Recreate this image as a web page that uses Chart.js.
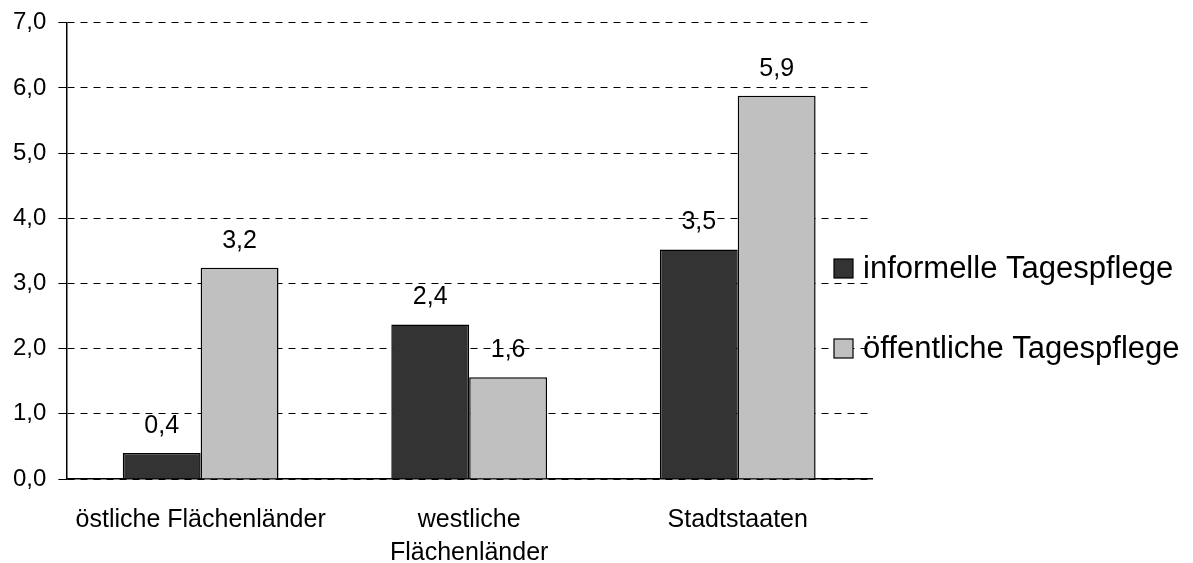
<!DOCTYPE html>
<html>
<head>
<meta charset="utf-8">
<script src="https://cdn.jsdelivr.net/npm/chart.js@4"></script>
<style>
  html, body { margin: 0; padding: 0; background: #fff; }
  #wrap { width: 1193px; height: 563px; }
</style>
</head>
<body>
<div id="wrap"><canvas id="tagespflegeChart" width="1193" height="563"></canvas></div>
<script>
// data
const categories = [
  "östliche Flächenländer",
  ["westliche", "Flächenländer"],
  "Stadtstaaten",
];
const seriesNames = ["informelle Tagespflege", "öffentliche Tagespflege"];
const informell = [0.4, 2.37, 3.52];
const oeffentlich = [3.24, 1.56, 5.88];
const yTicks = [0, 1, 2, 3, 4, 5, 6, 7];

const FONT = "'Liberation Sans', Arial, sans-serif";
const fmt = (v) => v.toFixed(1).replace(".", ",");

// value labels above the bars
const valueLabels = {
  id: "valueLabels",
  afterDatasetsDraw(chart) {
    const ctx = chart.ctx;
    ctx.save();
    ctx.font = "25px " + FONT;
    ctx.fillStyle = "#000";
    ctx.textAlign = "center";
    ctx.textBaseline = "middle";
    chart.data.datasets.forEach((ds, i) => {
      chart.getDatasetMeta(i).data.forEach((bar, j) => {
        ctx.fillText(fmt(ds.data[j]), bar.x, bar.y - 27);
      });
    });
    ctx.restore();
  },
};

// legend on the right, drawn from the datasets
const sideLegend = {
  id: "sideLegend",
  afterDraw(chart) {
    const ctx = chart.ctx;
    const x = 834;
    const ys = [268.5, 348.5];
    ctx.save();
    ctx.font = "31px " + FONT;
    ctx.textBaseline = "middle";
    chart.data.datasets.forEach((ds, i) => {
      ctx.fillStyle = ds.backgroundColor;
      ctx.fillRect(x, ys[i] - 9.5, 19, 19);
      ctx.strokeStyle = "#000";
      ctx.lineWidth = 1.2;
      ctx.strokeRect(x, ys[i] - 9.5, 19, 19);
      ctx.fillStyle = "#000";
      ctx.fillText(ds.label, x + 29, ys[i] + 1);
    });
    ctx.restore();
  },
};

const ctx = document.getElementById("tagespflegeChart").getContext("2d");
new Chart(ctx, {
  type: "bar",
  data: {
    labels: categories,
    datasets: [
      {
        label: seriesNames[0],
        data: informell,
        backgroundColor: "#333333",
        borderColor: "#000000",
        borderWidth: 1.5,
      },
      {
        label: seriesNames[1],
        data: oeffentlich,
        backgroundColor: "#c0c0c0",
        borderColor: "#000000",
        borderWidth: 1.5,
      },
    ],
  },
  options: {
    responsive: false,
    animation: false,
    layout: {
      padding: { top: 0, right: 321, bottom: 0, left: 1 },
    },
    datasets: {
      bar: { barPercentage: 1, categoryPercentage: 0.58 },
    },
    scales: {
      x: {
        grid: { display: false },
        border: { display: true, color: "#000", width: 1.5 },
        ticks: {
          color: "#000",
          font: { family: FONT, size: 25, lineHeight: 1.3 },
          padding: 17,
          maxRotation: 0,
        },
        afterFit(scale) {
          scale.height = 84;
        },
      },
      y: {
        min: 0,
        max: 7,
        afterBuildTicks(scale) {
          scale.ticks = yTicks.map((v) => ({ value: v }));
        },
        grid: {
          color: "#000",
          lineWidth: 1,
          tickLength: 8,
          tickBorderDash: [],
          drawTicks: true,
        },
        border: { display: true, color: "#000", width: 1.5, dash: [7, 6] },
        ticks: {
          color: "#000",
          font: { family: FONT, size: 24, lineHeight: 0.9 },
          padding: 12,
          callback: (v) => fmt(v),
        },
      },
    },
    plugins: {
      legend: { display: false },
      tooltip: { enabled: false },
    },
  },
  plugins: [valueLabels, sideLegend],
});
</script>
</body>
</html>
